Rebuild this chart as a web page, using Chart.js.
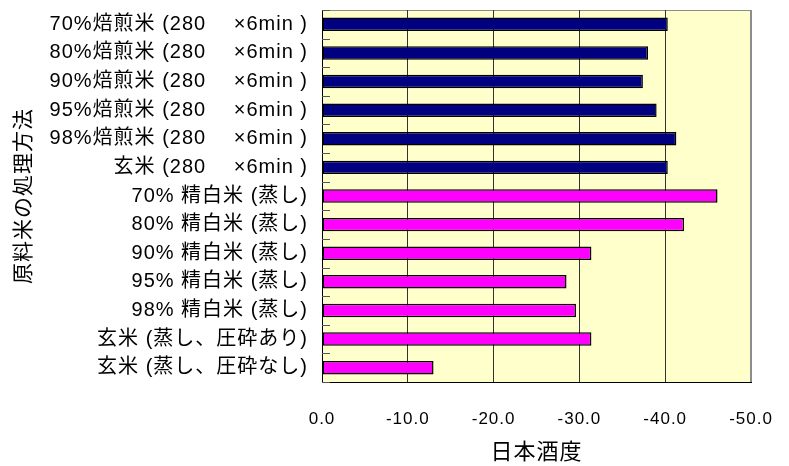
<!DOCTYPE html>
<html>
<head>
<meta charset="utf-8">
<script src="https://cdn.jsdelivr.net/npm/chart.js@4/dist/chart.umd.min.js"></script>
<style>
  html, body { margin: 0; padding: 0; background: #ffffff; }
  #wrap { width: 789px; height: 466px; }
</style>
</head>
<body>
<div id="wrap"><canvas id="c" width="789" height="466"></canvas></div>
<script>
// 焙煎米 (280℃ × 6min) の日本酒度
const roastLabels = [
  '70%焙煎米 (280\u3000\u00A0×6min )',
  '80%焙煎米 (280\u3000\u00A0×6min )',
  '90%焙煎米 (280\u3000\u00A0×6min )',
  '95%焙煎米 (280\u3000\u00A0×6min )',
  '98%焙煎米 (280\u3000\u00A0×6min )',
  '玄米 (280\u3000\u00A0×6min )'
];
const roastValues = [-40.3, -38.0, -37.4, -39.0, -41.3, -40.3];

// 蒸し処理米の日本酒度
const steamLabels = [
  '70% 精白米 (蒸し)',
  '80% 精白米 (蒸し)',
  '90% 精白米 (蒸し)',
  '95% 精白米 (蒸し)',
  '98% 精白米 (蒸し)',
  '玄米 (蒸し、圧砕あり)',
  '玄米 (蒸し、圧砕なし)'
];
const steamValues = [-46.1, -42.2, -31.4, -28.5, -29.6, -31.4, -13.0];

// 日本酒度の目盛り
const xTickValues = [0, -10, -20, -30, -40, -50];

const categories = roastLabels.concat(steamLabels);
const values = roastValues.concat(steamValues);
const barColors = roastValues.map(() => '#000080').concat(steamValues.map(() => '#FF00FF'));

const FONT = '"Liberation Sans", "Noto Sans CJK JP", sans-serif';

// プロット領域の背景と外枠、項目軸の内向き目盛り
const plotFrame = {
  id: 'plotFrame',
  beforeDraw(chart) {
    const { ctx, chartArea: a } = chart;
    ctx.save();
    ctx.fillStyle = '#FFFFCC';
    ctx.fillRect(a.left, a.top, a.right - a.left, a.bottom - a.top);
    ctx.strokeStyle = '#8c8c8c';
    ctx.lineWidth = 1;
    ctx.strokeRect(a.left + 0.5, a.top + 0.5, a.right - a.left - 1, a.bottom - a.top);
    ctx.restore();
    // 文字間を少し広げる
    if ('letterSpacing' in ctx) ctx.letterSpacing = '1px';
  },
  afterDatasetsDraw(chart) {
    const { ctx, chartArea: a, scales: { y } } = chart;
    ctx.save();
    ctx.strokeStyle = '#555555';
    ctx.lineWidth = 1;
    for (let i = 0; i <= categories.length; i++) {
      const yy = Math.round(y.getPixelForValue(i - 0.5)) + 0.5;
      ctx.beginPath();
      ctx.moveTo(a.left, yy);
      ctx.lineTo(a.left + 8, yy);
      ctx.stroke();
    }
    ctx.restore();
  }
};

new Chart(document.getElementById('c'), {
  type: 'bar',
  data: {
    labels: categories,
    datasets: [{
      data: values,
      backgroundColor: barColors,
      borderColor: '#000000',
      borderWidth: 1.5,
      borderSkipped: false,
      categoryPercentage: 1.0,
      barPercentage: 0.47
    }]
  },
  options: {
    indexAxis: 'y',
    responsive: false,
    animation: false,
    layout: { padding: { top: 10, right: 38, bottom: 0, left: 0 } },
    plugins: {
      legend: { display: false },
      tooltip: { enabled: false }
    },
    scales: {
      x: {
        min: -50,
        max: 0,
        reverse: true,
        afterFit(s) { s.height = 84; s.paddingLeft = 0; s.paddingRight = 0; },
        afterBuildTicks(s) { s.ticks = xTickValues.map(v => ({ value: v })); },
        grid: {
          color: (c) => (c.tick && c.tick.value === -50) ? '#8c8c8c' : '#333333',
          lineWidth: 1,
          drawTicks: false,
          tickLength: 0
        },
        border: { display: true, color: '#000000', width: 1 },
        ticks: {
          padding: 27,
          color: '#000000',
          font: { family: FONT, size: 17 },
          maxRotation: 0,
          callback: (v) => Number(v).toFixed(1)
        },
        title: {
          display: true,
          text: '日本酒度',
          color: '#000000',
          font: { family: FONT, size: 22 },
          padding: { top: 0, bottom: 0 }
        }
      },
      y: {
        afterFit(s) { s.width = 322; s.paddingTop = 0; s.paddingBottom = 0; },
        grid: { display: false, drawTicks: false, tickLength: 0 },
        border: { display: true, color: '#000000', width: 1 },
        ticks: {
          padding: 14,
          color: '#000000',
          autoSkip: false,
          font: { family: FONT, size: 20 }
        },
        title: {
          display: true,
          text: '原料米の処理方法',
          color: '#000000',
          font: { family: FONT, size: 21 },
          padding: { top: 12, bottom: 0 }
        }
      }
    }
  },
  plugins: [plotFrame]
});
</script>
</body>
</html>
